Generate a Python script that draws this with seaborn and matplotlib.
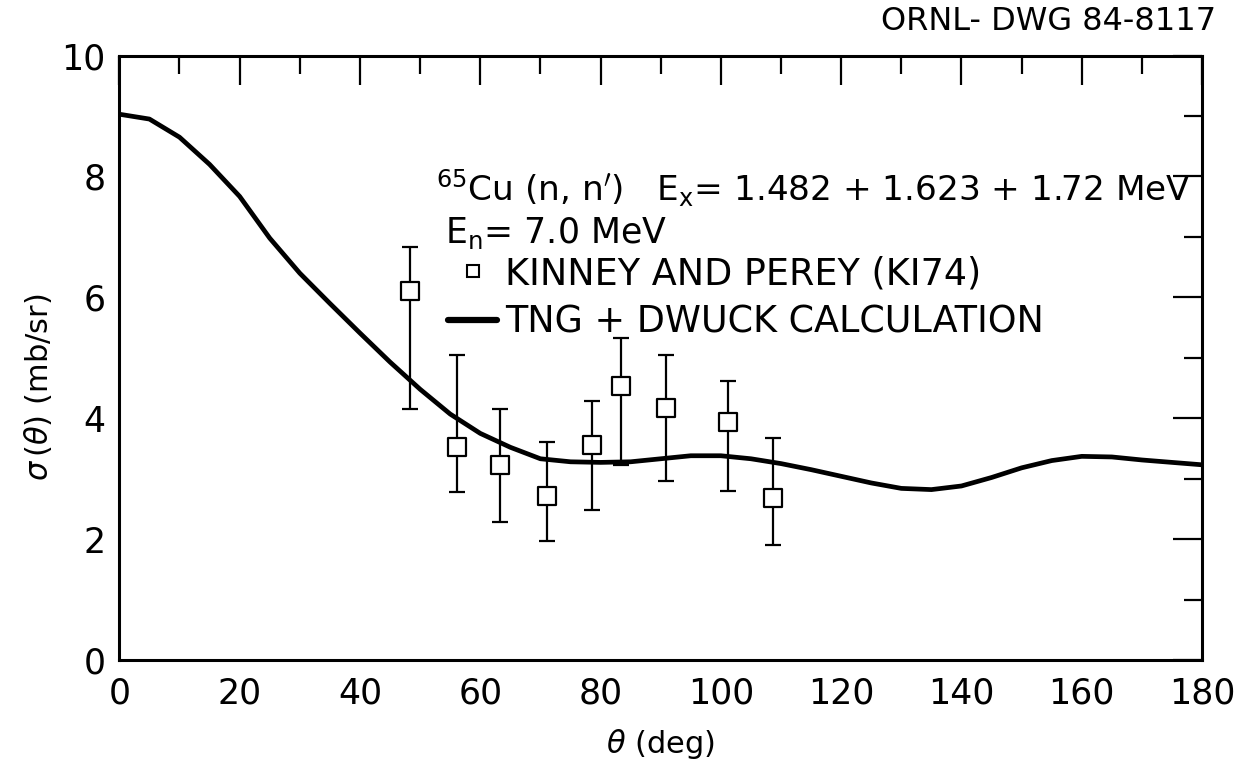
import numpy as np
import pandas as pd
import matplotlib
matplotlib.use("Agg")
import matplotlib.pyplot as plt
from matplotlib.lines import Line2D
import seaborn as sns

# Calculated curve (TNG + DWUCK)
theta_calc = [0, 5, 10, 15, 20, 25, 30, 35, 40, 45, 50, 55, 60, 65, 70, 75, 80, 85, 90,
              95, 100, 105, 110, 115, 120, 125, 130, 135, 140, 145, 150, 155, 160, 165,
              170, 175, 180]
sigma_calc = [9.03, 8.95, 8.65, 8.20, 7.67, 6.98, 6.40, 5.90, 5.41, 4.93, 4.48, 4.07, 3.75,
              3.52, 3.33, 3.28, 3.27, 3.28, 3.33, 3.38, 3.38, 3.33, 3.25, 3.15, 3.04, 2.93,
              2.84, 2.82, 2.88, 3.02, 3.18, 3.30, 3.37, 3.36, 3.31, 3.27, 3.23]

# Kinney and Perey (KI74) data
theta_exp = [48.3, 56.1, 63.3, 71.1, 78.6, 83.4, 90.9, 101.2, 108.7]
sigma_exp = [6.10, 3.53, 3.23, 2.72, 3.55, 4.54, 4.17, 3.94, 2.68]
err_hi = [6.84, 5.05, 4.15, 3.61, 4.28, 5.32, 5.04, 4.61, 3.68]
err_lo = [4.16, 2.78, 2.29, 1.97, 2.48, 3.23, 2.97, 2.79, 1.91]

x_ticks = [0, 20, 40, 60, 80, 100, 120, 140, 160, 180]
y_ticks = [0, 2, 4, 6, 8, 10]

sns.set_theme(style="white")
plt.rcParams['font.family'] = ['DejaVu Sans']
plt.rcParams['mathtext.fontset'] = 'dejavusans'
plt.rcParams['text.color'] = 'black'
plt.rcParams['axes.labelcolor'] = 'black'
plt.rcParams['xtick.color'] = 'black'
plt.rcParams['ytick.color'] = 'black'

fig = plt.figure(figsize=(12.47, 7.72), dpi=100)
ax = fig.add_axes([0.0957, 0.145, 0.8683, 0.783])

calc = pd.DataFrame({"theta": theta_calc, "sigma": sigma_calc})
exp = pd.DataFrame({"theta": theta_exp, "sigma": sigma_exp,
                    "lo": err_lo, "hi": err_hi})

sns.lineplot(data=calc, x="theta", y="sigma", ax=ax, color="black", linewidth=3.4,
             legend=False)

yerr = np.array([exp["sigma"] - exp["lo"], exp["hi"] - exp["sigma"]])
ax.errorbar(exp["theta"], exp["sigma"], yerr=yerr, fmt="none", ecolor="black",
            elinewidth=1.6, capsize=6, capthick=1.6, zorder=3)
sns.scatterplot(data=exp, x="theta", y="sigma", ax=ax, marker="s", s=150,
                facecolor="white", edgecolor="black", linewidth=1.6, zorder=4,
                legend=False)

ax.set_xlim(0, 180)
ax.set_ylim(0, 10)
ax.set_xticks(x_ticks)
ax.set_yticks(y_ticks)
ax.set_xticks(np.arange(10, 180, 20), minor=True)
ax.set_yticks(np.arange(1, 10, 2), minor=True)
ax.set_xticklabels([str(t) for t in x_ticks])
ax.set_yticklabels([str(t) for t in y_ticks])
ax.tick_params(which="both", direction="in", top=True, right=True, colors="black",
               width=1.6)
ax.tick_params(which="major", length=21, labelsize=25)
ax.tick_params(axis="x", which="major", pad=12)
ax.tick_params(axis="y", which="major", pad=10)
ax.tick_params(which="minor", length=13)
for s in ax.spines.values():
    s.set_linewidth(2.2)
    s.set_color("black")

ax.set_xlabel(r"$\theta$ (deg)", fontsize=22, labelpad=12)
ax.set_ylabel(r"$\sigma\,(\theta)$ (mb/sr)", fontsize=22)
ax.yaxis.set_label_coords(-0.060, 0.452)

ax.text(0.2925, 0.781, r"$^{65}$Cu (n, n$'$)   E$_{\rm x}$= 1.482 + 1.623 + 1.72 MeV",
        transform=ax.transAxes, fontsize=24.7, ha="left", va="center")
ax.text(0.3007, 0.706, r"E$_{\rm n}$= 7.0 MeV", transform=ax.transAxes,
        fontsize=25, ha="left", va="center")

handles = [Line2D([], [], marker="s", linestyle="none", markerfacecolor="white",
                  markeredgecolor="black", markersize=9, markeredgewidth=1.5),
           Line2D([], [], color="black", linewidth=4.5)]
labels = ["KINNEY AND PEREY (KI74)", "TNG + DWUCK CALCULATION"]
ax.legend(handles, labels, loc="upper left", bbox_to_anchor=(0.3036, 0.670),
          frameon=False, fontsize=26.3, handlelength=1.35, handletextpad=0.2,
          labelspacing=0.32, borderaxespad=0, borderpad=0, labelcolor="black")

fig.text(0.975, 0.972, "ORNL- DWG 84-8117", fontsize=23, ha="right", va="center")

fig.savefig("out.png", dpi=100)
